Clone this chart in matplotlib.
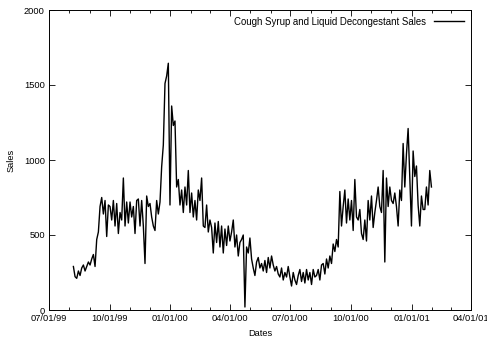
import numpy as np
import pandas as pd
import matplotlib
matplotlib.use("Agg")
import matplotlib.pyplot as plt
import matplotlib.dates as mdates

plt.rcParams['font.family'] = ['Liberation Sans', 'DejaVu Sans']

# series, roughly every 2.5 days
start_date = "1999-08-07"
end_date = "2001-01-31"
sales = [
    290, 222, 211, 260, 230, 280, 300, 260, 290, 320, 300, 340, 370, 290, 470,
    520, 690, 750, 640, 730, 490, 700, 690, 600, 730, 560, 710, 510, 650, 600,
    880, 560, 720, 580, 720, 620, 690, 510, 730, 740, 560, 730, 560, 310, 760,
    690, 710, 620, 560, 530, 730, 640, 720, 955, 1100, 1510, 1560, 1645, 700, 1360,
    1230, 1260, 820, 870, 700, 800, 650, 820, 700, 930, 650, 780, 620, 730, 600,
    800, 730, 880, 560, 550, 700, 520, 600, 550, 380, 580, 450, 590, 420, 560,
    380, 540, 430, 560, 460, 520, 600, 420, 500, 360, 450, 470, 500, 20, 420,
    380, 480, 340, 280, 230, 320, 350, 280, 310, 260, 330, 250, 350, 280, 360,
    300, 260, 290, 240, 220, 280, 200, 250, 220, 290, 220, 160, 250, 200, 170,
    230, 270, 190, 250, 180, 270, 200, 250, 170, 270, 220, 230, 270, 200, 300,
    310, 240, 340, 280, 360, 310, 440, 390, 470, 420, 790, 560, 690, 800, 580,
    740, 600, 730, 530, 870, 620, 600, 670, 510, 470, 600, 460, 730, 600, 760,
    550, 650, 730, 820, 690, 650, 930, 320, 880, 690, 820, 730, 710, 780, 690,
    560, 800, 730, 1110, 820, 1040, 1210, 890, 560, 1060, 890, 960, 700, 560, 760,
    670, 670, 820, 700, 930, 820,
]
dates = pd.to_datetime(np.linspace(pd.Timestamp(start_date).value,
                                   pd.Timestamp(end_date).value, len(sales)))

fig = plt.figure(figsize=(4.87, 3.39), dpi=100)
ax = fig.add_axes([49 / 487, 1 - 310 / 339, 422 / 487, 300 / 339])

ax.plot(dates, sales, color='black', lw=1.0,
        label='Cough Syrup and Liquid Decongestant Sales')

ax.set_xlim(pd.Timestamp("1999-07-01"), pd.Timestamp("2001-04-01"))
ax.set_ylim(0, 2000)
ax.xaxis.set_major_locator(mdates.MonthLocator(bymonth=[1, 4, 7, 10]))
ax.xaxis.set_minor_locator(mdates.MonthLocator())
ax.xaxis.set_major_formatter(mdates.DateFormatter('%m/%d/%y'))
ax.set_yticks([0, 500, 1000, 1500, 2000])

ax.tick_params(which='both', direction='in', top=True, right=True,
               labelsize=6.7, width=0.6, pad=3)
ax.tick_params(which='major', length=4)
ax.tick_params(which='minor', length=2)
for s in ax.spines.values():
    s.set_linewidth(0.7)

ax.set_xlabel('Dates', fontsize=6.7, labelpad=4)
ax.set_ylabel('Sales', fontsize=6.7, labelpad=6)

ax.legend(loc='upper right', frameon=False, fontsize=6.9, markerfirst=False,
          handlelength=3.2, borderaxespad=0.3, handletextpad=0.8)

fig.savefig('out.png', dpi=100)
